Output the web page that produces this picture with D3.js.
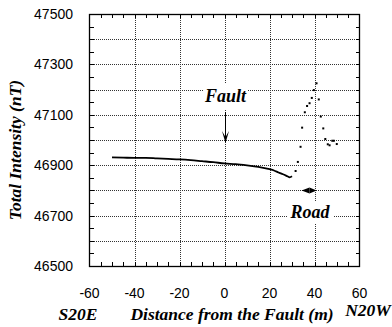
<!DOCTYPE html>
<html><head><meta charset="utf-8">
<script src="https://cdn.jsdelivr.net/npm/d3@7"></script>
<style>body{margin:0;background:#fff}svg{display:block}</style>
</head><body>
<script>
const xTicks = [-60,-40,-20,0,20,40,60];
const yTickLabels = [46500,46700,46900,47100,47300,47500];
const lineDist = [-50,-45,-40,-35,-30,-25,-20,-15,-10,-5,0,5,10,15,20,22,24,26,28,29,30];
const lineVal  = [46931,46930,46929,46929,46927,46925,46923,46920,46916,46912,46907,46904,46899,46893,46884,46879,46871,46864,46856,46852,46856];
const dotDist = [31.6,32.6,33.8,34.5,35.7,36.7,37.8,38.8,39.7,40.9,41.9,42.8,43.9,44.8,45.9,46.7,47.9,48.6,49.9];
const dotVal  = [46877,46913,46973,47049,47110,47135,47146,47167,47198,47225,47161,47093,47046,47004,46983,46979,46997,46997,46984];

const W=392,H=327, L=89.5,R=359.5,T=14,B=266;
const svg=d3.select("body").append("svg").attr("width",W).attr("height",H);
const x=d3.scaleLinear().domain([-60,60]).range([L,R]);
const y=d3.scaleLinear().domain([46500,47500]).range([B,T]);
const px=v=>Math.round(v)+0.5;

// grid
const g=svg.append("g").attr("shape-rendering","crispEdges");
g.selectAll("line.vg").data(d3.range(-40,60,20)).enter().append("line").attr("class","vg")
 .attr("x1",d=>px(x(d))).attr("x2",d=>px(x(d))).attr("y1",T).attr("y2",B)
 .attr("stroke","#333").attr("stroke-width",1).attr("stroke-dasharray","1,1");
g.selectAll("line.hg").data(d3.range(46600,47500,100)).enter().append("line").attr("class","hg")
 .attr("x1",L).attr("x2",R).attr("y1",d=>px(y(d))).attr("y2",d=>px(y(d)))
 .attr("stroke","#333").attr("stroke-width",1).attr("stroke-dasharray","1,1");

// minor/major ticks inside
const tk=svg.append("g").attr("shape-rendering","crispEdges").attr("stroke","#000").attr("stroke-width",1);
const tl=4;
tk.selectAll("line.xb").data(d3.range(-55,60,5)).enter().append("line").attr("class","xb")
 .attr("x1",d=>px(x(d))).attr("x2",d=>px(x(d))).attr("y1",B).attr("y2",B-tl);
tk.selectAll("line.xt").data(d3.range(-55,60,5)).enter().append("line").attr("class","xt")
 .attr("x1",d=>px(x(d))).attr("x2",d=>px(x(d))).attr("y1",T).attr("y2",T+tl);
tk.selectAll("line.yl").data(d3.range(46550,47500,50)).enter().append("line").attr("class","yl")
 .attr("x1",L).attr("x2",L+tl).attr("y1",d=>px(y(d))).attr("y2",d=>px(y(d)));
tk.selectAll("line.yr").data(d3.range(46550,47500,50)).enter().append("line").attr("class","yr")
 .attr("x1",R-tl).attr("x2",R).attr("y1",d=>px(y(d))).attr("y2",d=>px(y(d)));
svg.append("rect").attr("x",L).attr("y",T+0.5).attr("width",R-L).attr("height",B-T)
 .attr("fill","none").attr("stroke","#000").attr("stroke-width",1.3);

// tick labels
svg.selectAll("text.xl").data(xTicks).enter().append("text").attr("class","xl")
 .attr("x",d=>x(d)).attr("y",298).attr("text-anchor","middle")
 .attr("font-family","Liberation Sans, Arial, sans-serif").attr("font-size",14).text(d=>d);
svg.selectAll("text.ylab").data(yTickLabels).enter().append("text").attr("class","ylab")
 .attr("x",73).attr("y",d=>y(d)+5).attr("text-anchor","end")
 .attr("font-family","Liberation Sans, Arial, sans-serif").attr("font-size",14).text(d=>d);

const ttl={"font-family":"Liberation Serif, Times New Roman, serif","font-weight":"bold","font-style":"italic","font-size":17.5};
function T_(sel){for(const k in ttl) sel.attr(k,ttl[k]); return sel;}
T_(svg.append("text")).attr("x",78).attr("y",320).attr("text-anchor","middle").text("S20E");
T_(svg.append("text")).attr("x",232).attr("y",320).attr("text-anchor","middle").text("Distance from the Fault (m)");
T_(svg.append("text")).attr("x",368).attr("y",316).attr("text-anchor","middle").text("N20W");
T_(svg.append("text")).attr("transform","translate(21,150) rotate(-90)").attr("text-anchor","middle").text("Total Intensity (nT)");

// data line
const pts=lineDist.map((d,i)=>[d,lineVal[i]]);
svg.append("path").datum(pts).attr("fill","none").attr("stroke","#000").attr("stroke-width",1.8)
 .attr("d",d3.line().x(d=>x(d[0])).y(d=>y(d[1])).curve(d3.curveMonotoneX));
svg.selectAll("rect.dot").data(dotDist).enter().append("rect").attr("class","dot")
 .attr("x",(d)=>x(d)-1).attr("y",(d,i)=>y(dotVal[i])-1).attr("width",2).attr("height",2).attr("fill","#000");

// Fault annotation
const fx=px(x(0));
svg.append("rect").attr("x",fx-22).attr("y",83).attr("width",44).attr("height",27).attr("fill","#fff");
T_(svg.append("text")).attr("x",fx).attr("y",102).attr("text-anchor","middle").attr("font-size",18).text("Fault");
svg.append("line").attr("x1",fx).attr("x2",fx).attr("y1",112).attr("y2",142).attr("stroke","#000").attr("stroke-width",1);
svg.append("path").attr("d",`M${fx-3.5},${131} L${fx},${143} L${fx+3.5},${131} L${fx},${137} Z`).attr("fill","#000");

// Road annotation
const ry=px(y(46800)), rc=x(37.8);
svg.append("path").attr("d",`M${rc-8},${ry} L${rc},${ry-3} L${rc},${ry+3} Z`).attr("fill","#000");
svg.append("path").attr("d",`M${rc+7},${ry} L${rc},${ry-3} L${rc},${ry+3} Z`).attr("fill","#000");
svg.append("rect").attr("x",287).attr("y",201).attr("width",47).attr("height",23).attr("fill","#fff");
T_(svg.append("text")).attr("x",310).attr("y",218).attr("text-anchor","middle").attr("font-size",18).text("Road");
</script>
</body></html>
